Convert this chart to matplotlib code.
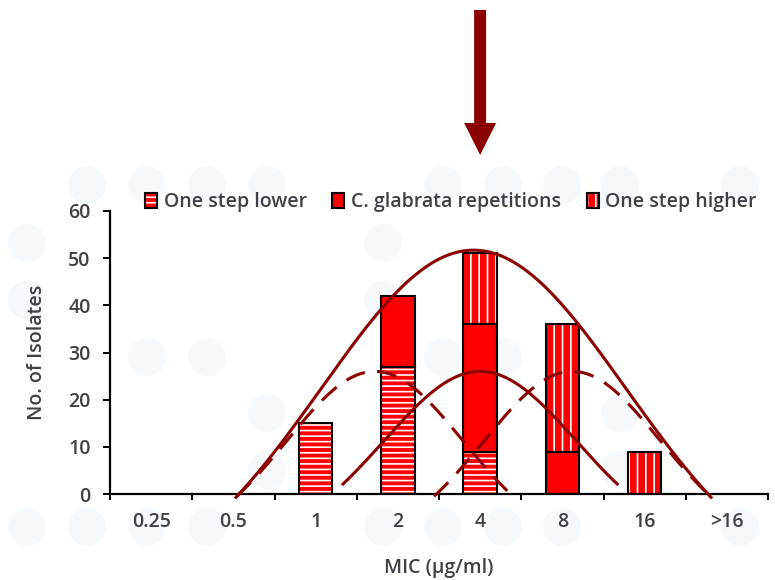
import numpy as np
import matplotlib
matplotlib.use("Agg")
import matplotlib.pyplot as plt
import matplotlib.transforms as mtransforms
from matplotlib.patches import Patch, Ellipse, FancyArrow
from matplotlib.legend_handler import HandlerTuple

# MIC categories and isolate counts per stacked series
mic_labels = ["0.25", "0.5", "1", "2", "4", "8", "16", ">16"]
one_step_lower = [0, 0, 15, 27, 9, 0, 0, 0]
glabrata_reps = [0, 0, 0, 15, 27, 9, 0, 0]
one_step_higher = [0, 0, 0, 0, 15, 27, 9, 0]

# Envelope curves: centre (category index), half-width, peak, drawn half-extent
curve_centers = [3.92, 4.0, 2.72, 5.12]
curve_widths = [2.85, 1.8, 1.65, 1.65]
curve_peaks = [51.7, 26.0, 26.0, 26.0]
curve_extents = [2.9, 1.68, 1.68, 1.68]
curve_dashed = [False, False, True, True]

TEXT = "#404048"
CURVE = "#8B0000"
FS = 14

plt.rcParams["font.family"] = ["Open Sans", "DejaVu Sans"]
plt.rcParams["font.weight"] = "semibold"
plt.rcParams["axes.labelweight"] = "semibold"
plt.rcParams["hatch.linewidth"] = 1.2
plt.rcParams["font.size"] = FS

W, H = 775, 580
fig = plt.figure(figsize=(W / 100, H / 100), dpi=100)
fig.patch.set_facecolor("white")

# faint decorative dots in the page background
dot_rows = {
    185: [87, 147, 207, 267, 443, 503, 562, 620, 740],
    243: [27, 383],
    300: [27, 383],
    357: [147, 207, 443, 503],
    413: [267, 620],
    470: [267, 620],
    527: [27, 87, 147, 207, 383, 443, 503, 562, 740],
}
for py, xs in dot_rows.items():
    for px in xs:
        fig.add_artist(Ellipse((px / W, 1 - py / H), 38 / W, 38 / H,
                               transform=fig.transFigure, facecolor="#F6F9FB",
                               edgecolor="none", zorder=-5))

ax = fig.add_axes([110 / W, 1 - 494 / H, (768 - 110) / W, (494 - 211) / H])
ax.set_facecolor("none")

x = np.arange(len(mic_labels))
bw = 0.41
series = [
    (one_step_lower, "---", "One step lower"),
    (glabrata_reps, None, "C. glabrata repetitions"),
    (one_step_higher, "||", "One step higher"),
]
bottom = np.zeros(len(x))
handles = []
for vals, hatch, label in series:
    vals = np.asarray(vals, dtype=float)
    m = vals > 0
    ax.bar(x[m], vals[m], bw, bottom=bottom[m], facecolor="red",
           edgecolor="white" if hatch else "red", hatch=hatch, linewidth=0, zorder=2)
    ax.bar(x[m], vals[m], bw, bottom=bottom[m], facecolor="none",
           edgecolor="black", linewidth=1.5, zorder=3)
    bottom += vals
    h1 = Patch(facecolor="red", edgecolor="white" if hatch else "red", hatch=hatch, linewidth=0)
    h2 = Patch(facecolor="none", edgecolor="black", linewidth=1.5)
    handles.append(((h1, h2), label))

# envelope curves
def envelope(xv, c, w, a, s=0.65):
    u = (xv - c) / w
    e0 = np.exp(-1 / (2 * s * s))
    return a * (np.exp(-u * u / (2 * s * s)) - e0) / (1 - e0)

for c, w, a, d, dashed in zip(curve_centers, curve_widths, curve_peaks, curve_extents, curve_dashed):
    xs = np.linspace(c - d, c + d, 300)
    ln, = ax.plot(xs, envelope(xs, c, w, a), color=CURVE, lw=2.2, zorder=4,
                  clip_on=False, solid_capstyle="butt")
    if dashed:
        ln.set_dashes((6.5, 4))

ax.set_xlim(-0.5, 7.5)
ax.set_ylim(0, 60)
ax.set_yticks(np.arange(0, 61, 10))
ax.set_xticks(np.arange(-0.5, 8, 1))
ax.set_xticklabels([])
ax.set_xticks(x, minor=True)
ax.set_xticklabels(mic_labels, minor=True)
ax.tick_params(axis="x", which="major", direction="out", length=4.5, width=1.4, color="black")
ax.tick_params(axis="x", which="minor", length=0, pad=13, labelcolor=TEXT, labelsize=FS)
ax.tick_params(axis="y", direction="out", length=5, width=1.4, pad=9, labelcolor=TEXT, labelsize=FS)
for side in ("top", "right"):
    ax.spines[side].set_visible(False)
for side in ("left", "bottom"):
    ax.spines[side].set_linewidth(1.6)

ax.set_ylabel("No. of Isolates", color=TEXT, fontsize=FS, labelpad=15)
ax.set_xlabel("MIC (µg/ml)", color=TEXT, fontsize=FS, labelpad=19)

leg = fig.legend([h for h, _ in handles], [l for _, l in handles],
                 handler_map={tuple: HandlerTuple(ndivide=1)},
                 loc="center left", bbox_to_anchor=(145 / W, 1 - 202 / H),
                 ncol=3, frameon=False, handlelength=0.62, handleheight=0.78,
                 handletextpad=0.35, columnspacing=1.3, borderpad=0, borderaxespad=0,
                 fontsize=FS)
for t in leg.get_texts():
    t.set_color(TEXT)

# arrow pointing at the 4 µg/ml category
blend = mtransforms.blended_transform_factory(ax.transData, fig.transFigure)
fig.add_artist(FancyArrow(4, 1 - 10 / H, 0, -145 / H,
                          width=12 / 82.25, head_width=32 / 82.25, head_length=32 / H,
                          length_includes_head=True, transform=blend,
                          color=CURVE, linewidth=0))

fig.savefig("out.png", dpi=100)
